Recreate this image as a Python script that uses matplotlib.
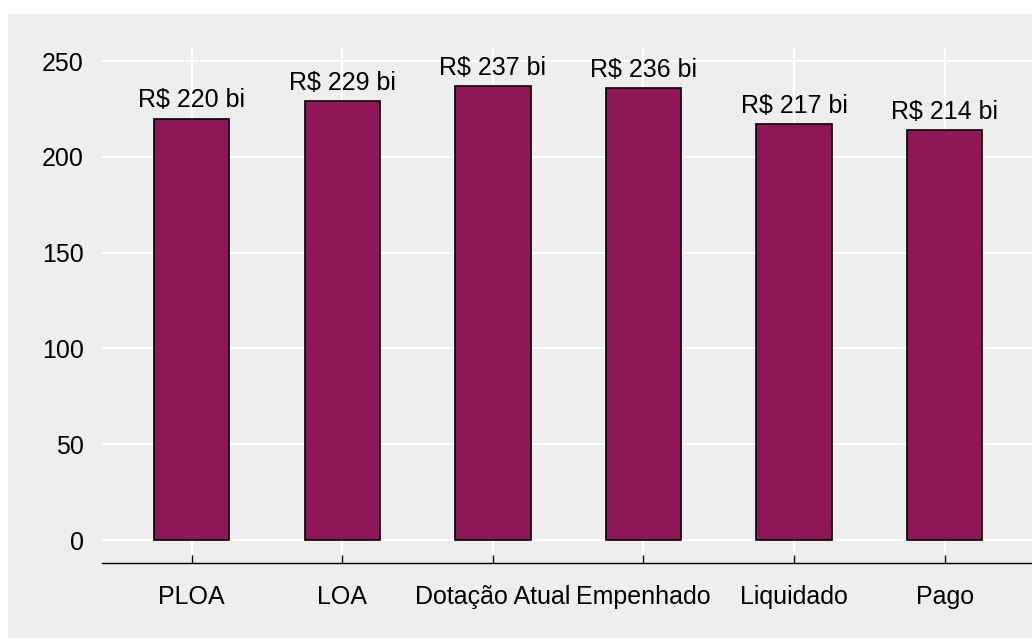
#!/usr/bin/env python3

import matplotlib
matplotlib.use("Agg")
import matplotlib.pyplot as plt
from matplotlib.patches import Rectangle

categorias = ["PLOA", "LOA", "Dotação Atual", "Empenhado", "Liquidado", "Pago"]
valores = [220, 229, 237, 236, 217, 214]
rotulos = ["R$ %d bi" % v for v in valores]
yticks = [0, 50, 100, 150, 200, 250]

plt.rcParams['font.family'] = ['Liberation Sans', 'DejaVu Sans']

fig = plt.figure(figsize=(10.32, 6.39), dpi=100)
fig.patch.set_facecolor("white")
# painel cinza de fundo
fig.patches.append(Rectangle((8 / 1032, 1 / 639), 1, 1 - 15 / 639,
                             transform=fig.transFigure, facecolor="#EEEEEE",
                             edgecolor="none", zorder=-10))

ax = fig.add_axes([102 / 1032, 1 - 563 / 639, 1 - 102 / 1032, (563 - 48) / 639])
ax.set_facecolor("none")
ax.set_zorder(1)

x = range(len(categorias))
ax.bar(x, valores, width=0.5, color="#8F1758", edgecolor="black",
       linewidth=1.2, zorder=3)

for i, v in enumerate(valores):
    ax.annotate(rotulos[i], (i, v), xytext=(0, 4.5), textcoords="offset points",
                ha="center", va="bottom", fontsize=18, color="black", zorder=4)

ax.set_xlim(-0.596, 5.58)
ax.set_ylim(-12, 256.8)
ax.set_yticks(yticks)
ax.set_xticks(list(x))
ax.set_xticklabels(categorias)

ax.grid(True, color="white", linewidth=1.5, zorder=1)
ax.set_axisbelow(True)

for s in ["top", "right", "left"]:
    ax.spines[s].set_visible(False)
ax.spines["bottom"].set_color("black")
ax.spines["bottom"].set_linewidth(1.0)

ax.tick_params(axis="y", length=0, pad=13, labelsize=18, colors="black")
ax.tick_params(axis="x", direction="in", length=6, width=1.0, pad=16,
               labelsize=18, colors="black")

fig.savefig("out.png", dpi=100)
